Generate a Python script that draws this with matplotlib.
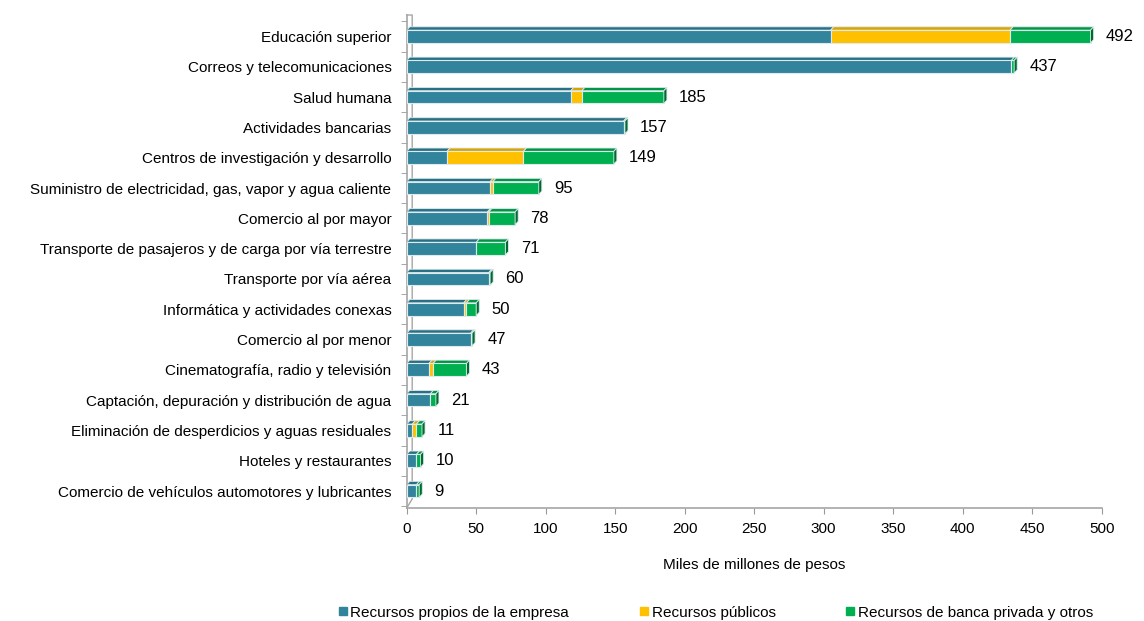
import numpy as np
import matplotlib.pyplot as plt
from matplotlib.patches import Polygon
from matplotlib.lines import Line2D
import matplotlib.colors as mcolors

plt.rcParams['font.family'] = ['Liberation Sans', 'DejaVu Sans']

categories = [
    "Educación superior",
    "Correos y telecomunicaciones",
    "Salud humana",
    "Actividades bancarias",
    "Centros de investigación y desarrollo",
    "Suministro de electricidad, gas, vapor y agua caliente",
    "Comercio al por mayor",
    "Transporte de pasajeros y de carga por vía terrestre",
    "Transporte por vía aérea",
    "Informática y actividades conexas",
    "Comercio al por menor",
    "Cinematografía, radio y televisión",
    "Captación, depuración y distribución de agua",
    "Eliminación de desperdicios y aguas residuales",
    "Hoteles y restaurantes",
    "Comercio de vehículos automotores y lubricantes",
]
propios = [305, 435, 118, 156, 29, 60, 58, 50, 59, 41, 46, 16, 17, 4, 7, 7]
publicos = [129, 0, 8, 0, 55, 2, 1, 0, 0, 2, 0, 3, 0, 3, 0, 0]
banca = [58, 2, 59, 1, 65, 33, 19, 21, 1, 7, 1, 24, 4, 4, 3, 2]
totales = [492, 437, 185, 157, 149, 95, 78, 71, 60, 50, 47, 43, 21, 11, 10, 9]

series_names = ["Recursos propios de la empresa", "Recursos públicos",
                "Recursos de banca privada y otros"]
colors = ["#31849B", "#FFC000", "#00B050"]

def darker(c, f=0.75):
    r, g, b = mcolors.to_rgb(c)
    return (r * f, g * f, b * f)

fig = plt.figure(figsize=(11.44, 6.21), dpi=100)
ax = fig.add_axes([406.7 / 1144, 1 - 508 / 621, 695 / 1144, 493 / 621])

n = len(categories)
ypos = np.arange(n)[::-1]
h = 0.42
dx, dy = 2.2, 0.11  # depth of the 3D look, in data units

for yi, vals in zip(ypos, zip(propios, publicos, banca)):
    left = 0
    last_color = None
    for v, c in zip(vals, colors):
        if v <= 0:
            continue
        ax.barh(yi, v, left=left, height=h, color=c, edgecolor="#DDEBEF",
                linewidth=0.8, zorder=3)
        top = yi + h / 2
        ax.add_patch(Polygon([(left, top), (left + v, top), (left + v + dx, top + dy),
                              (left + dx, top + dy)], closed=True,
                             facecolor=darker(c, 0.85), edgecolor="#DDEBEF",
                             linewidth=0.6, zorder=2))
        left += v
        last_color = c
    end = left
    ax.add_patch(Polygon([(end, yi - h / 2), (end + dx, yi - h / 2 + dy),
                          (end + dx, yi + h / 2 + dy), (end, yi + h / 2)], closed=True,
                         facecolor=darker(last_color, 0.6), edgecolor="#DDEBEF",
                         linewidth=0.6, zorder=4))

for yi, t in zip(ypos, totales):
    ax.text(t + 11, yi, str(t), va="center", ha="left", fontsize=12)

ax.set_xlim(0, 500)
ax.set_ylim(-0.56, 15.71)
ax.set_xticks(np.arange(0, 501, 50))
ax.set_yticks(ypos)
ax.set_yticklabels(categories, fontsize=11)
ax.set_yticks(np.arange(-0.5, n, 1), minor=True)
ax.tick_params(axis="y", which="major", length=0, pad=11)
ax.tick_params(axis="y", which="minor", length=4, color="#999999", direction="out")
ax.tick_params(axis="x", length=4, color="#999999", labelsize=11, pad=6)

for s in ["top", "right"]:
    ax.spines[s].set_visible(False)
ax.spines["left"].set_color("#A6A6A6")
ax.spines["bottom"].set_color("#A6A6A6")
ax.spines["left"].set_linewidth(1.2)
ax.spines["bottom"].set_linewidth(1.2)

# back wall edge of the 3D frame
ymin, ymax = ax.get_ylim()
ax.plot([0, dx * 1.8, dx * 1.8, 0], [ymin, ymin + 0.3, ymax, ymax], color="#A6A6A6",
        lw=1.0, clip_on=False, zorder=1)

ax.set_xlabel("Miles de millones de pesos", fontsize=11, labelpad=16)

handles = [Line2D([], [], marker="s", linestyle="none", markersize=6,
                  markerfacecolor=c, markeredgecolor=c) for c in colors]
fig.legend(handles, series_names, loc="lower center", ncol=3, frameon=False,
           bbox_to_anchor=(0.625, -0.02), fontsize=11, handletextpad=0.1,
           columnspacing=4.5, handlelength=0.8)

fig.savefig("out.png", dpi=100)
